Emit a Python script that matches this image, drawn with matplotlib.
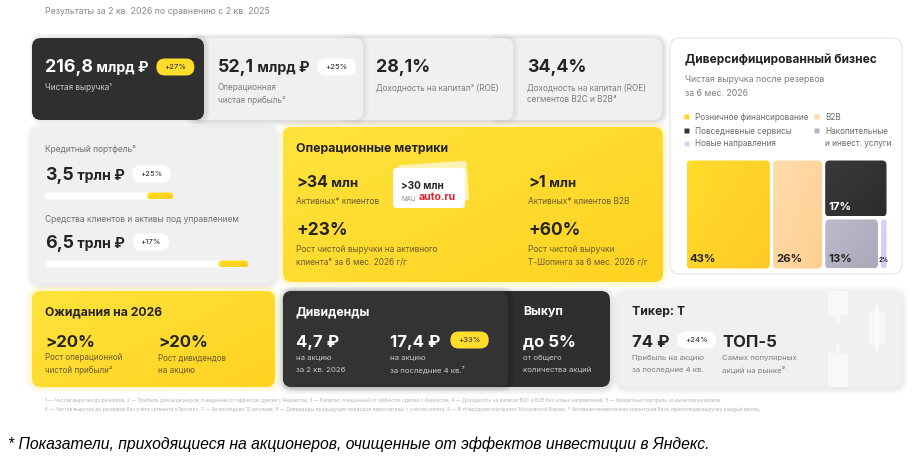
import matplotlib
matplotlib.use('Agg')
import matplotlib.pyplot as plt
from matplotlib.patches import FancyBboxPatch
import matplotlib.transforms as mtr
import numpy as np

FAM = ['Inter', 'DejaVu Sans']
plt.rcParams['font.family'] = FAM

# ---------------- data ----------------
header = "Результаты за 2 кв. 2026 по сравнению с 2 кв. 2025"

top_values = ["216,8", "52,1", "28,1%", "34,4%"]
top_units = [" млрд ₽", " млрд ₽", "", ""]
top_changes = ["+27%", "+25%", None, None]
top_labels = [["Чистая выручка¹"],
              ["Операционная", "чистая прибыль²"],
              ["Доходность на капитал³ (ROE)"],
              ["Доходность на капитал (ROE)", "сегментов B2C и B2B⁴"]]

portfolio_labels = ["Кредитный портфель⁵", "Средства клиентов и активы под управлением"]
portfolio_values = ["3,5", "6,5"]
portfolio_units = [" трлн ₽", " трлн ₽"]
portfolio_growth = [25, 17]

ops_title = "Операционные метрики"
ops_values = [">34", ">1"]
ops_units = [" млн", " млн"]
ops_labels = ["Активных* клиентов", "Активных* клиентов B2B"]
ops_growth = ["+23%", "+60%"]
ops_growth_labels = [["Рост чистой выручки на активного", "клиента⁶ за 6 мес. 2026 г/г"],
                     ["Рост чистой выручки", "Т-Шопинга за 6 мес. 2026 г/г"]]
mau_value = ">30 млн"

div_title = "Диверсифицированный бизнес"
div_sub = ["Чистая выручка после резервов", "за 6 мес. 2026"]
segments = ["Розничное финансирование", "B2B", "Повседневные сервисы",
            "Накопительные\nи инвест. услуги", "Новые направления"]
shares = [43, 26, 17, 13, 2]

exp_title = "Ожидания на 2026"
exp_values = [">20%", ">20%"]
exp_labels = [["Рост операционной", "чистой прибыли²"], ["Рост дивидендов", "на акцию"]]

dividend_values = ["4,7 ₽", "17,4 ₽"]
dividend_labels = [["на акцию", "за 2 кв. 2026"], ["на акцию", "за последние 4 кв.⁷"]]
dividend_change = "+33%"
buyback_value = "до 5%"
buyback_labels = ["от общего", "количества акций"]

ticker_title = "Тикер: Т"
eps_value = "74 ₽"
eps_change = "+24%"
eps_labels = ["Прибыль на акцию", "за последние 4 кв."]
top5_value = "ТОП-5"
top5_labels = ["Самых популярных", "акций на рынке⁹"]

footnotes = ["1 — Чистая выручка до резервов, 2 — Прибыль для акционеров, очищенная от эффектов сделки с Яндексом, 3 — Капитал, очищенный от эффектов сделки с Яндексом, 4 — Доходность на капитал B2C и B2B без новых направлений, 5 — Кредитный портфель за вычетом резервов.",
             "6 — Чистая выручка до резервов без учёта сегмента «Прочее», 7 — За последние 12 месяцев, 8 — Дивиденды предыдущих периодов пересчитаны с учётом сплита, 9 — В «Народном портфеле» Московской Биржи. * Активная ежемесячная клиентская база, приносящая выручку каждый месяц."]
note = "* Показатели, приходящиеся на акционеров, очищенные от эффектов инвестиции в Яндекс."

# ---------------- styles ----------------
DARK = '#2f2f2f'
LIGHT = '#f0f0f0'
YEL = '#ffdd2d'
TXT = '#242424'
GREY = '#7d7d7d'
YLAB = '#675c2c'
DLAB = '#c9c9c9'
seg_colors = ['#ffd42c', '#ffd9a4', '#333333', '#b6b5c6', '#d2d1fb']

W, H = 916, 466
fig = plt.figure(figsize=(W / 100, H / 100), dpi=100)
ax = fig.add_axes([0, 0, 1, 1])
ax.set_xlim(0, W)
ax.set_ylim(H, 0)
ax.axis('off')
renderer = fig.canvas.get_renderer()


def rbox(x, y, w, h, fc, r=9, z=1, ec='none', lw=0, alpha=1.0, axx=None, asp=1.0):
    a = axx or ax
    r = min(r, w / 2, h / asp / 2)
    p = FancyBboxPatch((x, y), w, h, boxstyle=f"round,pad=0,rounding_size={r}",
                       fc=fc, ec=ec, lw=lw, zorder=z, alpha=alpha, mutation_aspect=asp)
    a.add_patch(p)
    return p


def shadow(x, y, w, h, r=9, z=0.5, dx=0, dy=1.5, col='black', a=0.025, n=4):
    for i in range(n):
        pad = 1 + i * 1.6
        rbox(x - pad + dx, y - pad + dy, w + 2 * pad, h + 2 * pad, col, r=r + pad, z=z, alpha=a)


def grad_box(x, y, w, h, c1, c2, r=9, z=1, axx=None, asp=1.0):
    a = axx or ax
    p = rbox(x, y, w, h, 'none', r=r, z=z, axx=a, asp=asp)
    n = 80
    xx, yy = np.meshgrid(np.linspace(0, 1, n), np.linspace(0, 1, n))
    t = (0.55 * xx + 0.45 * yy)[..., None]
    c1 = np.array(matplotlib.colors.to_rgb(c1))
    c2 = np.array(matplotlib.colors.to_rgb(c2))
    img = c1 * (1 - t) + c2 * t
    im = a.imshow(img, extent=(x, x + w, y + h, y), origin='upper', zorder=z,
                  interpolation='bilinear', aspect='auto')
    im.set_clip_path(p)
    return p


def txt(x, y, s, size, color, weight='normal', va='center', ha='left', z=10, **kw):
    return ax.text(x, y, s, fontsize=size, color=color, fontweight=weight,
                   va=va, ha=ha, zorder=z, **kw)


def wid(t):
    return t.get_window_extent(renderer).width


def rich(x, y, parts, z=10):
    for s, size, color in parts:
        t = txt(x, y, s, size, color, weight='bold', va='baseline', z=z)
        x += wid(t)
    return x


def badge(x, yc, s, fc, tc, z=10, h=17, padx=8):
    t = txt(x + padx, yc, s, 5.6, tc, va='center', z=z + 1)
    w = wid(t) + 2 * padx
    rbox(x, yc - h / 2, w, h, fc, r=h / 2, z=z)
    return x + w


def labels(x, ys, lines, color, size=5.9, z=10):
    for yy, s in zip(ys, lines):
        txt(x, yy, s, size, color, z=z)


# ---------------- header ----------------
txt(45, 12, header, 6.3, '#8a8a8a')

# ---------------- top row ----------------
top_boxes = [(32, 204), (190, 363), (340, 513), (490, 662)]
ty0, ty1 = 38, 120
shadow(190, ty0, 472, ty1 - ty0, z=0.2, a=0.02)
for k in [3, 2, 1]:
    x0, x1 = top_boxes[k]
    shadow(x0, ty0, x1 - x0, ty1 - ty0, z=1 + (3 - k) * 0.2 - 0.05, dx=1.5, dy=0, a=0.018, n=3)
    rbox(x0, ty0, x1 - x0, ty1 - ty0, LIGHT, z=1 + (3 - k) * 0.2)
shadow(32, ty0, 172, ty1 - ty0, z=1.9, dx=1.5, dy=0, a=0.03, n=3)
rbox(32, ty0, 172, ty1 - ty0, DARK, z=2)

top_x = [45, 218, 376, 527]
for i in range(4):
    col = 'white' if i == 0 else TXT
    parts = [(top_values[i], 12.8, col)]
    if top_units[i]:
        parts.append((top_units[i], 10.2, col))
    xe = rich(top_x[i], 72, parts)
    if top_changes[i]:
        badge(xe + 8, 67, top_changes[i], YEL if i == 0 else 'white', TXT)
    labels(top_x[i], [88, 100], top_labels[i], DLAB if i == 0 else GREY)

# ---------------- middle left: portfolio ----------------
shadow(32, 127, 243, 156, a=0.02)
rbox(32, 127, 243, 156, LIGHT, z=1)
lab_y = [149, 219]
base_y = [180, 248]
bar_y = [196, 264]
bar_len = [128, 203]
for i in range(2):
    txt(45, lab_y[i], portfolio_labels[i], 6.1, '#6f6f6f')
    xe = rich(45, base_y[i], [(portfolio_values[i], 12.8, TXT), (portfolio_units[i], 10.2, TXT)])
    badge(xe + 8, base_y[i] - 6, f"+{portfolio_growth[i]}%", 'white', TXT)
    g = portfolio_growth[i] / 100
    share = 1 - 1 / (1 + g)
    L = bar_len[i]
    rbox(45, bar_y[i] - 3.5, L, 7, 'white', r=3.5, z=2)
    ys = 45 + L * (1 - share)
    grad_box(ys, bar_y[i] - 3.5, 45 + L - ys, 7, '#ffe21a', '#ffc81e', r=3.5, z=3)

# ---------------- middle: operational metrics ----------------
shadow(283, 127, 380, 155, col='#ffd800', a=0.05, dy=0)
grad_box(283, 127, 380, 155, '#ffe33c', '#ffd322', z=1)
txt(296, 149, ops_title, 8.9, TXT, weight='bold')
ops_x = [296, 528]
for i in range(2):
    rich(ops_x[i], 187, [(ops_values[i], 11.5, TXT), (ops_units[i], 9.5, TXT)])
    txt(ops_x[i], 202, ops_labels[i], 6.0, YLAB)
    rich(ops_x[i], 235, [(ops_growth[i], 12.5, TXT)])
    labels(ops_x[i], [249, 263], ops_growth_labels[i], YLAB, size=6.0)

# MAU badge
back = FancyBboxPatch((398, 163), 70, 40, boxstyle="round,pad=0,rounding_size=4",
                      fc='#fff5c4', ec='none', zorder=4, alpha=0.9)
back.set_transform(mtr.Affine2D().rotate_deg_around(433, 183, -4) + ax.transData)
ax.add_patch(back)
rbox(393, 168, 72, 40, 'white', r=4, z=5)
txt(401, 189, mau_value, 7.2, TXT, weight='bold', va='baseline', z=6)
txt(401, 199, "MAU", 4.6, '#8a8a8a', va='center', z=6)
txt(419, 197.5, "auto.ru", 7.6, '#e5202b', weight='bold', va='center', z=6)

# ---------------- right: diversified business ----------------
rbox(670, 38, 232, 236, 'white', r=10, z=1, ec='#e4e4e4', lw=0.8)
txt(685, 60, div_title, 8.6, TXT, weight='bold')
labels(685, [79, 93], div_sub, GREY, size=6.3)

leg_pos = [(687, 117), (817, 117), (687, 131), (817, 131), (687, 144)]
for (lx, ly), name, c in zip(leg_pos, segments, seg_colors):
    rbox(lx - 2.5, ly - 2.5, 5, 5, c, r=0.5, z=3)
    lines = name.split('\n')
    for j, ln in enumerate(lines):
        txt(lx + 8, ly + j * 13, ln, 5.9, '#6a6a6a')

# treemap in its own axes
tx0, tx1, ty_0, ty_1 = 685, 888, 159, 270
tm = fig.add_axes([tx0 / W, 1 - ty_1 / H, (tx1 - tx0) / W, (ty_1 - ty_0) / H])
tm.set_xlim(0, sum(shares))
tm.set_ylim(1, 0)
tm.axis('off')
pxx = (tx1 - tx0) / sum(shares)      # px per x unit
pxy = (ty_1 - ty_0)                  # px per y unit
asp = pxx / pxy
gx, gy = 1.5 / pxx, 1.5 / pxy
rest = sum(shares[2:])
low = shares[3] + shares[4]
cells = [(0, 0, shares[0], 1),
         (shares[0], 0, shares[1], 1),
         (shares[0] + shares[1], 0, rest, shares[2] / rest),
         (shares[0] + shares[1], shares[2] / rest, rest * shares[3] / low, 1 - shares[2] / rest),
         (shares[0] + shares[1] + rest * shares[3] / low, shares[2] / rest,
          rest * shares[4] / low, 1 - shares[2] / rest)]
grads = [('#ffdd2a', '#ffc928'), ('#ffdcae', '#ffcf90'), ('#3a3a3a', '#2c2c2c'),
         ('#bdbccd', '#a9a8ba'), ('#d6d5fc', '#cccbf8')]
for (cx, cy, cw, ch), (c1, c2), v, i in zip(cells, grads, shares, range(5)):
    grad_box(cx + gx, cy + gy, cw - 2 * gx, ch - 2 * gy, c1, c2, r=2.2, z=2, axx=tm, asp=asp)
    col = 'white' if i == 2 else TXT
    if v >= 5:
        tm.text(cx + gx + 3.0 / pxx, cy + ch - gy - 9 / pxy, f"{v}%", fontsize=8.2, color=col,
                fontweight='bold', va='center', ha='left', zorder=5)
    else:
        tm.text(cx + cw / 2, cy + ch - gy - 9 / pxy, f"{v}%", fontsize=4.4, color=col,
                fontweight='bold', va='center', ha='center', zorder=5)

# ---------------- bottom: expectations ----------------
shadow(32, 291, 243, 96, col='#ffd800', a=0.05, dy=0)
grad_box(32, 291, 243, 96, '#ffe33c', '#ffd322', z=1)
txt(45, 312, exp_title, 8.8, TXT, weight='bold')
exp_x = [45, 158]
for i in range(2):
    rich(exp_x[i], 347, [(exp_values[i], 12.0, TXT)])
    labels(exp_x[i], [358, 370], exp_labels[i], YLAB, size=5.8)

# ---------------- bottom: dividends & buyback ----------------
shadow(283, 291, 327, 96, a=0.03)
rbox(283, 291, 327, 96, DARK, z=1)
shadow(283, 291, 225, 96, z=1.5, dx=2, dy=0, a=0.05, n=3)
rbox(283, 291, 225, 96, '#333333', z=2)
txt(296, 312, "Дивиденды", 8.8, 'white', weight='bold')
dv_x = [296, 390]
for i in range(2):
    xe = rich(dv_x[i], 347, [(dividend_values[i], 12.0, 'white')])
    labels(dv_x[i], [358, 370], dividend_labels[i], DLAB, size=5.6)
badge(xe + 10, 340, dividend_change, YEL, TXT)
txt(523, 312, "Выкуп", 8.8, 'white', weight='bold')
rich(523, 347, [(buyback_value, 12.0, 'white')])
labels(523, [358, 370], buyback_labels, DLAB, size=5.6)

# ---------------- bottom: ticker ----------------
shadow(618, 291, 284, 96, a=0.02)
rbox(618, 291, 284, 96, LIGHT, z=1)
# faint candlestick decoration
for (bx, by, bw, bh) in [(828, 291, 20, 24), (836, 315, 4, 10), (828, 353, 20, 34), (836, 343, 4, 10),
                         (869, 311, 16, 33), (875, 303, 4, 48)]:
    rbox(bx, by, bw, bh, 'white', r=2, z=1.5, alpha=0.55)
txt(632, 312, ticker_title, 8.8, TXT, weight='bold')
xe = rich(632, 347, [(eps_value, 12.0, TXT)])
badge(xe + 8, 340, eps_change, 'white', TXT)
labels(632, [358, 370], eps_labels, GREY, size=5.6)
rich(722, 347, [(top5_value, 12.0, TXT)])
labels(722, [358, 370], top5_labels, GREY, size=5.6)

# ---------------- footnotes ----------------
t1 = txt(45, 400, footnotes[0], 4.0, '#b2b2b2')
fs_fn = 4.0 * 672 / wid(t1)
t1.set_fontsize(fs_fn)
txt(45, 409, footnotes[1], fs_fn, '#b2b2b2')

ax.text(8, 444, note, fontsize=11.3, color='black', fontstyle='italic',
        family=['Liberation Sans', 'DejaVu Sans'], va='center', ha='left')

ax.set_xlim(0, W)
ax.set_ylim(H, 0)
ax.set_aspect('auto')
fig.savefig('out.png', dpi=100)
